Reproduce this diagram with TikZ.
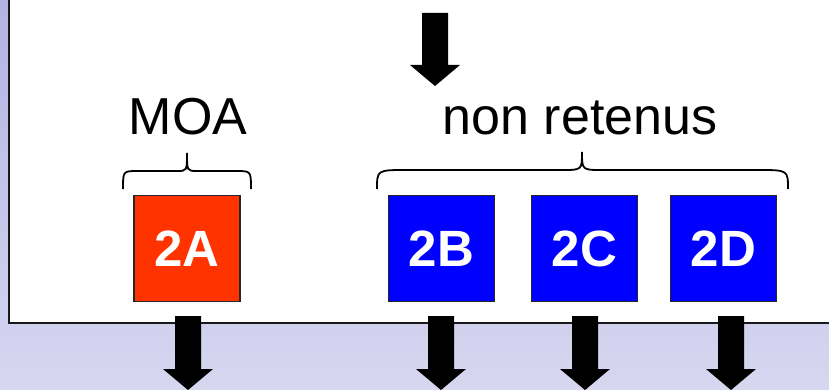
\documentclass[tikz,border=0pt]{standalone}
\usepackage{fontspec}
\setmainfont{Liberation Sans}
\definecolor{bgtop}{RGB}{178,178,228}
\definecolor{bgbot}{RGB}{215,215,240}
\definecolor{redbox}{RGB}{255,51,0}
\definecolor{bluebox}{RGB}{0,0,255}
\tikzset{
  box/.style={draw=black!85, line width=1.6pt, minimum width=106pt, minimum height=106pt, inner sep=0pt,
    text=white, font=\fontsize{51}{60}\selectfont\bfseries},
  lbl/.style={anchor=base, inner sep=0pt, font=\fontsize{52}{60}\selectfont},
  bracestyle/.style={line width=1.8pt, black},
  blockarrow/.style={fill=black}
}
\newcommand\dnarrow[4]{% x, top, head base, tip
  \fill[blockarrow] (#1-13,#2) -- (#1+13,#2) -- (#1+13,#3) -- (#1+25,#3) -- (#1,#4) -- (#1-25,#3) -- (#1-13,#3) -- cycle;}
\newcommand\mybrace[8]{% x1,x2,xm,yb,ys,yt,r,r2
  \draw[bracestyle] (#1,#4) .. controls (#1,#5) .. (#1+#7,#5) -- (#3-#8,#5) .. controls (#3,#5) .. (#3,#6)
    .. controls (#3,#5) .. (#3+#8,#5) -- (#2-#7,#5) .. controls (#2,#5) .. (#2,#4);}
\begin{document}
\begin{tikzpicture}[x=1pt,y=-1pt]
\useasboundingbox (0,0) rectangle (829,390);
\shade[top color=bgtop, bottom color=bgbot] (0,0) rectangle (829,390);
\fill[white] (9,-5) rectangle (835,323);
\draw[line width=2.5pt, black!90] (9,-5) -- (9,323) -- (835,323);
% top arrow
\dnarrow{435}{13}{65}{86}
% labels
\node[lbl] (moa) at (188,135) {MOA};
\node[lbl] (nr) at (580,135) {non retenus};
% braces
\mybrace{123}{251}{187}{189}{171}{153}{15}{10}
\mybrace{377}{788}{582}{189}{170}{152}{30}{20}
% boxes
\node[box, fill=redbox] (a) at (187,248.5) {2A};
\node[box, fill=bluebox] (b) at (441.5,248.5) {2B};
\node[box, fill=bluebox] (c) at (584.5,248.5) {2C};
\node[box, fill=bluebox] (d) at (723.5,248.5) {2D};
% bottom arrows
\dnarrow{188}{316}{369}{390}
\dnarrow{441}{316}{369}{390}
\dnarrow{585}{316}{369}{390}
\dnarrow{731}{316}{369}{390}
\end{tikzpicture}
\end{document}
